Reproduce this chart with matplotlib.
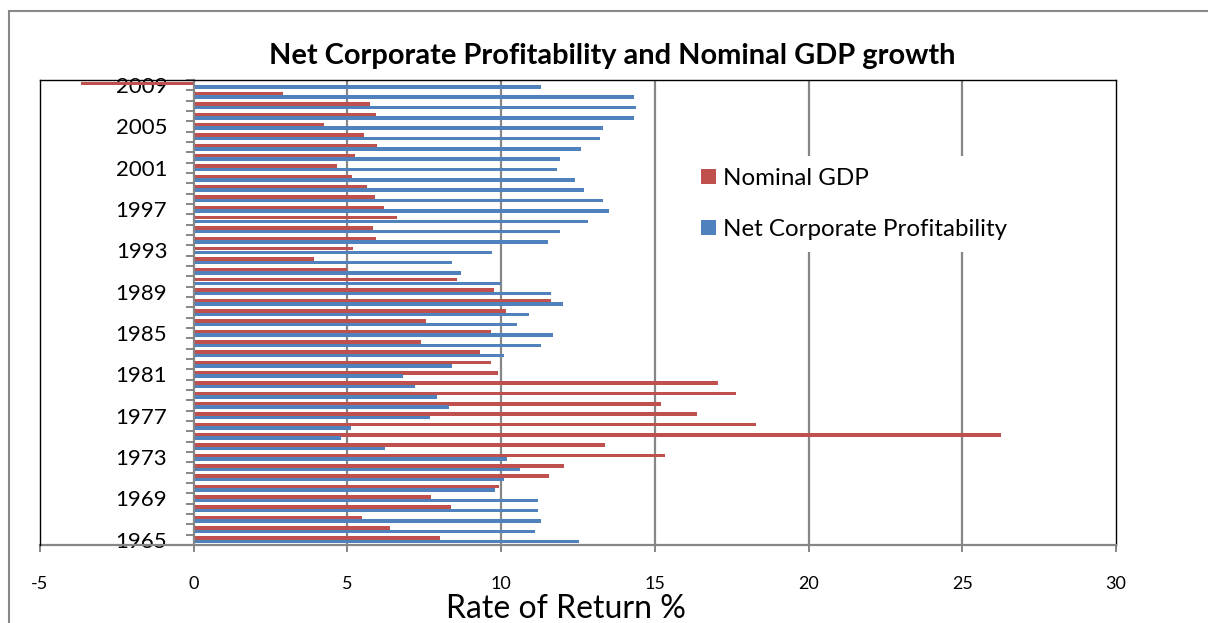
import numpy as np
import matplotlib
matplotlib.use("Agg")
import matplotlib.pyplot as plt
from matplotlib.patches import Rectangle

years = list(range(1965, 2010))

# values, 1965 -> 2009
nominal_gdp = [8.01, 6.40, 5.48, 8.38, 7.71, 9.94, 11.56, 12.05, 15.32, 13.37,
               26.27, 18.30, 16.38, 15.21, 17.64, 17.05, 9.91, 9.66, 9.31, 7.40,
               9.66, 7.57, 10.16, 11.63, 9.78, 8.57, 4.98, 3.91, 5.17, 5.93,
               5.82, 6.61, 6.20, 5.90, 5.65, 5.16, 4.65, 5.26, 5.97, 5.55,
               4.25, 5.92, 5.75, 2.90, -3.66]
net_corp_profit = [12.52, 11.11, 11.31, 11.20, 11.20, 9.81, 10.10, 10.60, 10.20, 6.21,
                   4.80, 5.10, 7.70, 8.29, 7.90, 7.21, 6.80, 8.41, 10.10, 11.31,
                   11.69, 10.51, 10.90, 12.00, 11.61, 10.00, 8.70, 8.41, 9.70, 11.51,
                   11.91, 12.81, 13.51, 13.30, 12.70, 12.40, 11.81, 11.91, 12.61, 13.20,
                   13.30, 14.31, 14.40, 14.31, 11.31]
x_ticks = [-5, 0, 5, 10, 15, 20, 25, 30]

plt.rcParams['font.family'] = ['Lato', 'DejaVu Sans']

red = '#C0504D'
blue = '#4F81BD'
grey = '#868686'

fig = plt.figure(figsize=(12.08, 6.23), dpi=100)
ax = fig.add_axes([40 / 1208, 78 / 623, 1076 / 1208, 465 / 623])

pos = np.arange(len(years))
h = 1 / 3
ax.barh(pos + h / 2, nominal_gdp, height=h, color=red, label='Nominal GDP', zorder=2)
ax.barh(pos - h / 2, net_corp_profit, height=h, color=blue,
        label='Net Corporate Profitability', zorder=2)

ax.set_xlim(-5, 30)
ax.set_ylim(-0.5, len(years) - 0.5)

# gridlines behind the bars
for x in x_ticks[2:-1]:
    ax.axvline(x, color=grey, lw=1.6, zorder=0.5)

# category axis crosses at 0
ax.spines['left'].set_position(('data', 0))
ax.spines['left'].set_color(grey)
ax.spines['left'].set_linewidth(1.6)
ax.spines['bottom'].set_color(grey)
ax.spines['bottom'].set_linewidth(1.6)
ax.spines['top'].set_color('black')
ax.spines['top'].set_linewidth(1.0)
ax.spines['right'].set_color('black')
ax.spines['right'].set_linewidth(1.0)
ax.axvline(-5, color='black', lw=1.0, clip_on=False, zorder=3)

# tick marks between categories, labels every 4 years
ax.set_yticks(np.arange(-0.5, len(years), 1.0))
ax.set_yticklabels([])
ax.tick_params(axis='y', which='major', direction='out', length=6,
               width=1.4, color=grey)
ax.set_yticks(pos[::4], [str(y) for y in years[::4]], minor=True)
ax.tick_params(axis='y', which='minor', length=0, pad=19, labelsize=16)

ax.set_xticks(x_ticks, [str(x) for x in x_ticks])
ax.tick_params(axis='x', direction='out', length=5, width=1.4, color=grey,
               pad=17, labelsize=13)

fig.text(566 / 1208, 1 - 618 / 623, 'Rate of Return %', ha='center', va='baseline',
         fontsize=23)
fig.text(612 / 1208, 1 - 56 / 623, 'Net Corporate Profitability and Nominal GDP growth',
         ha='center', va='center', fontsize=20.9, fontweight='bold')

leg = ax.legend(loc='center left', bbox_to_anchor=(689 / 1208, 1 - 204 / 623),
                bbox_transform=fig.transFigure, frameon=True, fontsize=17.4,
                handlelength=0.62, handleheight=0.62, handletextpad=0.3,
                labelspacing=1.25, borderpad=0.5, borderaxespad=0)
leg.get_frame().set_edgecolor('none')
leg.get_frame().set_facecolor('white')
leg.get_frame().set_alpha(1)

# outer chart border
fig.patches.append(Rectangle((9 / 1208, -0.1), 1.2, 0.1 + 1 - 11 / 623, fill=False,
                             edgecolor='#898989', lw=1.5, transform=fig.transFigure))

fig.savefig('out.png', dpi=100)
